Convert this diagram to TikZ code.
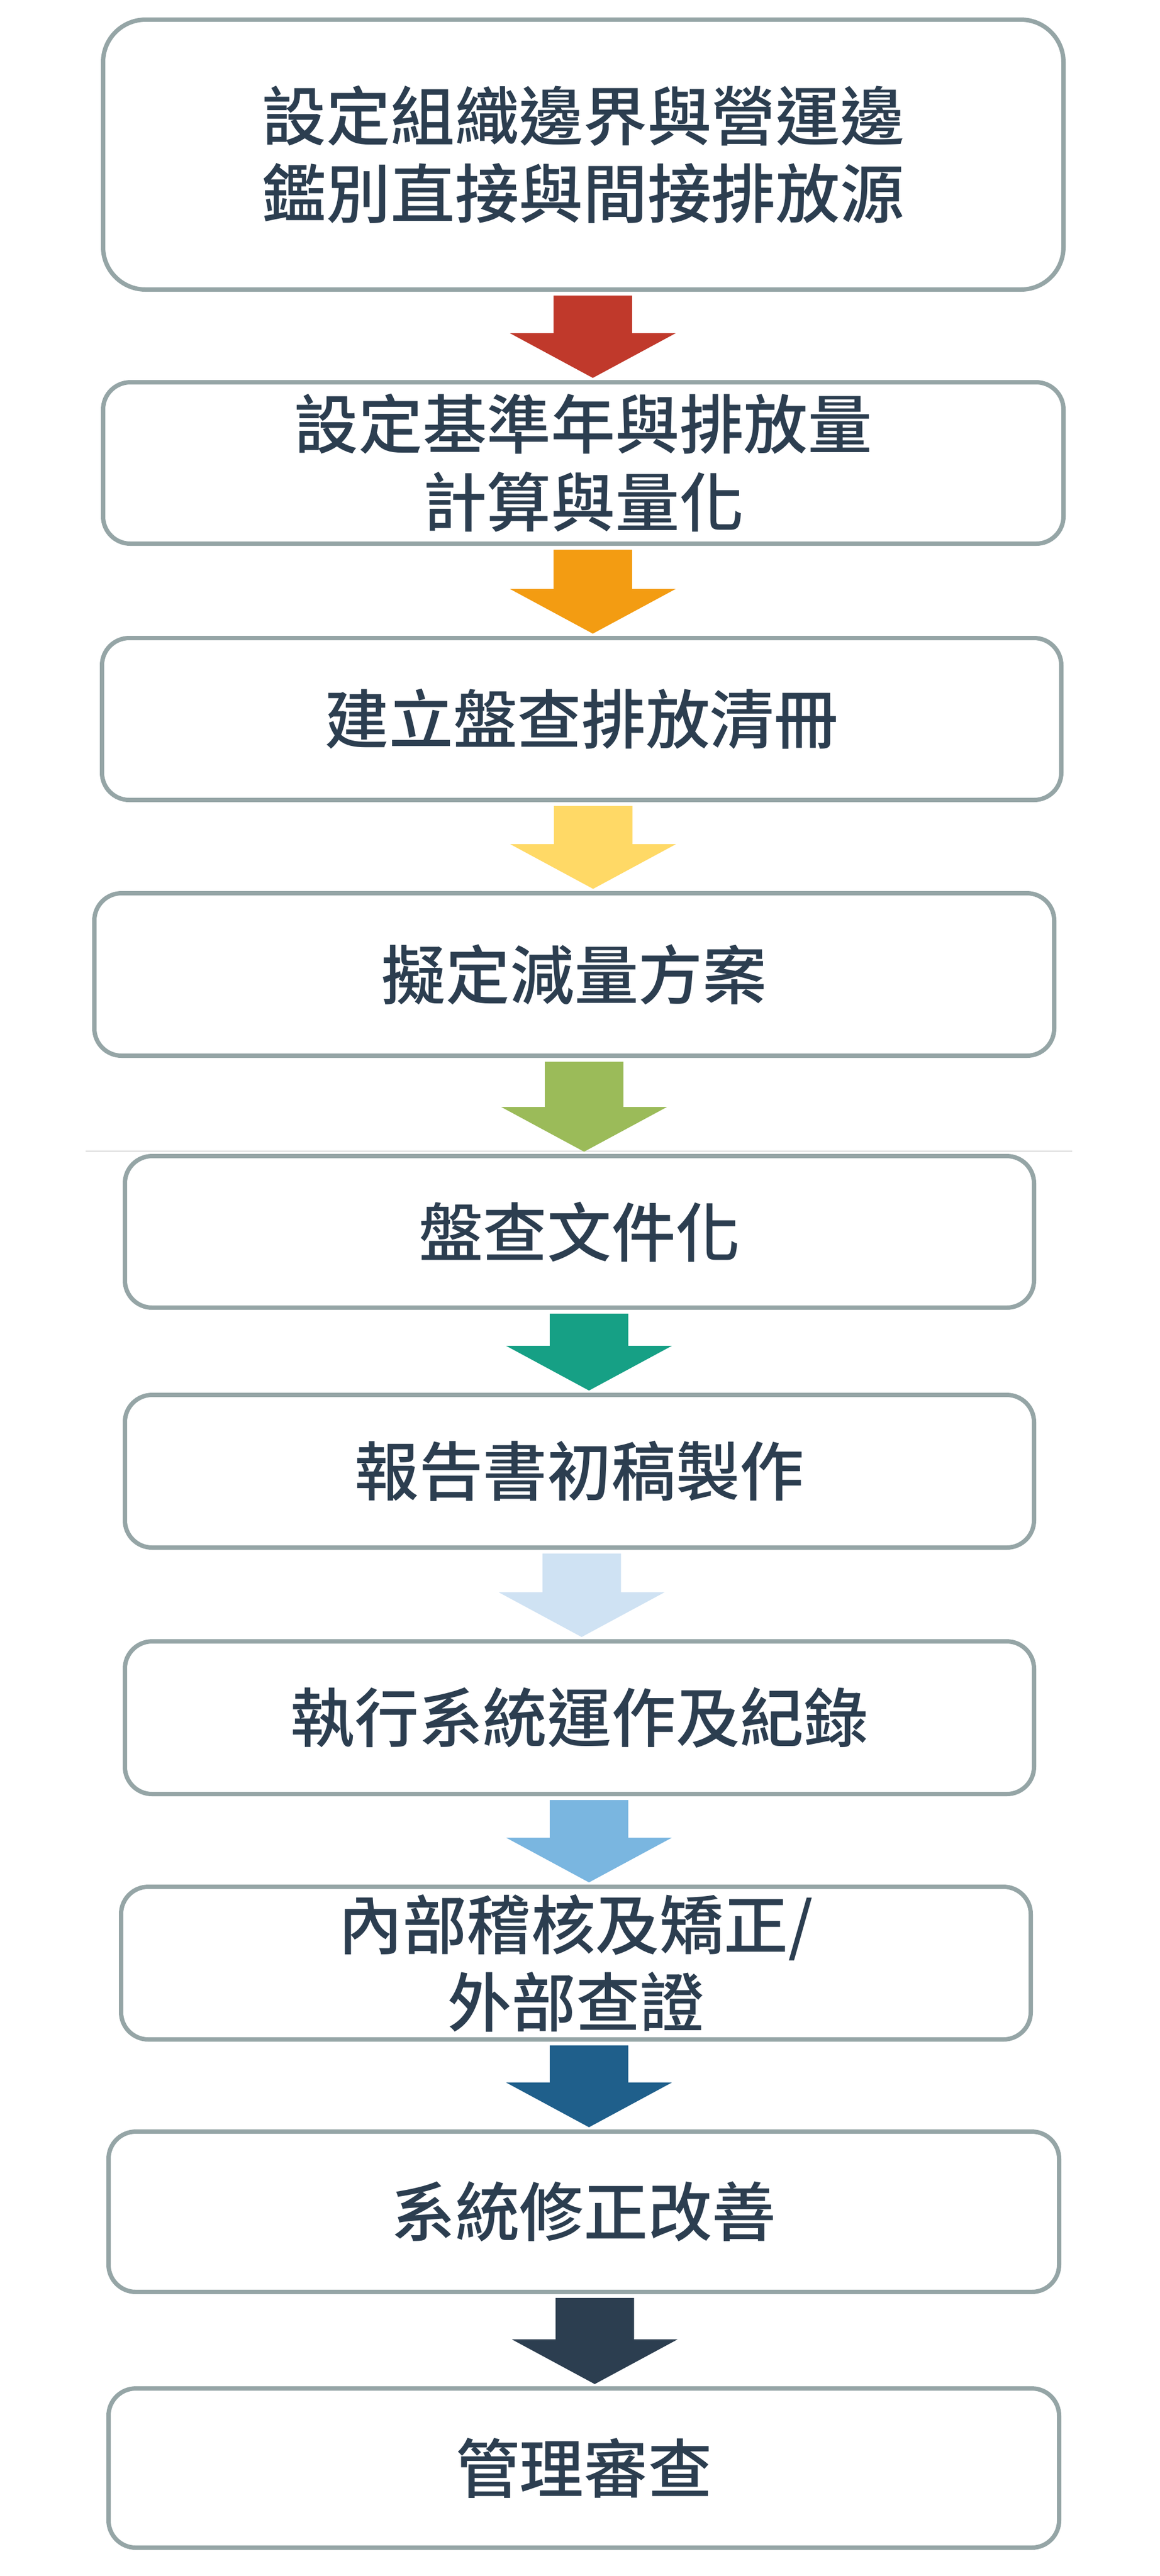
\documentclass[tikz,border=0pt]{standalone}
\usepackage{fontspec}
\newfontfamily\cjk{Noto Sans CJK TC Medium}
\usetikzlibrary{calc}

\definecolor{boxline}{HTML}{95A5A6}
\definecolor{textdark}{HTML}{2C3E50}
\definecolor{arrred}{HTML}{C0392B}
\definecolor{arrorange}{HTML}{F39C12}
\definecolor{arryellow}{HTML}{FFD966}
\definecolor{arrgreen}{HTML}{9BBB59}
\definecolor{arrteal}{HTML}{16A085}
\definecolor{arrpale}{HTML}{CFE2F3}
\definecolor{arrsky}{HTML}{7AB6E0}
\definecolor{arrblue}{HTML}{1F5F8B}
\definecolor{arrdark}{HTML}{2C3E50}
\definecolor{sepline}{HTML}{D9D9D9}

\newcommand{\flowarrow}[4]{%
\fill[#3] let \p1=(#1.south), \p2=(#2.north) in
(\x1+#4cm-0.72cm,\y1-0.11cm) -- (\x1+#4cm+0.72cm,\y1-0.11cm) -- (\x1+#4cm+0.72cm,\y2+0.9cm)
-- (\x1+#4cm+1.52cm,\y2+0.9cm) -- (\x1+#4cm,\y2+0.08cm) -- (\x1+#4cm-1.52cm,\y2+0.9cm)
-- (\x1+#4cm-0.72cm,\y2+0.9cm) -- cycle;
}

\begin{document}
\begin{tikzpicture}[
box/.style={draw=boxline, line width=0.08cm, rounded corners=0.5cm, fill=white, outer sep=0pt,
  align=center, text=textdark, font=\cjk\fontsize{33.5}{40.5}\selectfont}
]

\useasboundingbox (0,0) rectangle (21.26,-47.24);

\node[box, rounded corners=0.78cm, minimum width=17.61cm, minimum height=4.95cm] (b1) at (10.695, -2.835) {設定組織邊界與營運邊\\鑑別直接與間接排放源};
\node[box, minimum width=17.61cm, minimum height=2.96cm] (b2) at (10.695, -8.49) {設定基準年與排放量\\計算與量化};
\node[box, minimum width=17.59cm, minimum height=2.97cm] (b3) at (10.665, -13.185) {建立盤查排放清冊};
\node[box, minimum width=17.60cm, minimum height=2.98cm] (b4) at (10.53, -17.87) {擬定減量方案};

\coordinate (sepL) at (1.57, -21.11);
\coordinate (sepR) at (19.66, -21.11);
\draw[sepline, line width=0.02cm] (sepL) -- (sepR);

\node[box, minimum width=16.67cm, minimum height=2.78cm] (b5) at (10.625, -22.59) {盤查文件化};
\node[box, minimum width=16.67cm, minimum height=2.80cm] (b6) at (10.625, -26.98) {報告書初稿製作};
\node[box, minimum width=16.67cm, minimum height=2.80cm] (b7) at (10.625, -31.50) {執行系統運作及紀錄};
\node[box, minimum width=16.68cm, minimum height=2.80cm] (b8) at (10.56, -36.00) {內部稽核及矯正/\\外部查證};
\node[box, minimum width=17.43cm, minimum height=2.94cm] (b9) at (10.705, -40.56) {系統修正改善};
\node[box, minimum width=17.43cm, minimum height=2.92cm] (b10) at (10.705, -45.26) {管理審查};

\flowarrow{b1}{b2}{arrred}{0.175}
\flowarrow{b2}{b3}{arrorange}{0.175}
\flowarrow{b3}{b4}{arryellow}{0.21}
\flowarrow{b4}{b5}{arrgreen}{0.18}
\flowarrow{b5}{b6}{arrteal}{0.175}
\flowarrow{b6}{b7}{arrpale}{0.04}
\flowarrow{b7}{b8}{arrsky}{0.175}
\flowarrow{b8}{b9}{arrblue}{0.24}
\flowarrow{b9}{b10}{arrdark}{0.2}

\end{tikzpicture}
\end{document}
